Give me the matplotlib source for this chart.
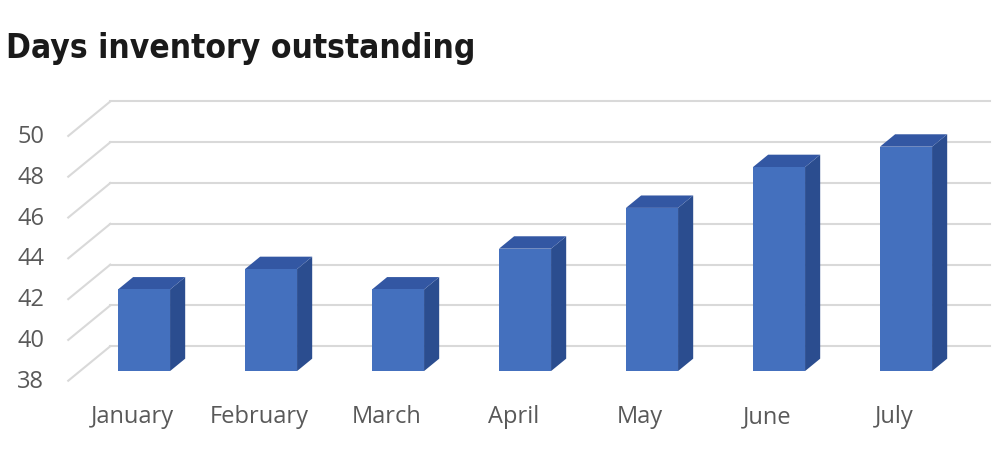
import matplotlib
matplotlib.use("Agg")
import matplotlib.pyplot as plt
from matplotlib.patches import Polygon

months = ["January", "February", "March", "April", "May", "June", "July"]
days = [42, 43, 42, 44, 46, 48, 49]
yticks = [38, 40, 42, 44, 46, 48, 50]
base = 38

# fake 3d: shift for one unit of depth (x in category units, y in value units)
DX, DY = 0.331, 1.69
FRONT, BACK = -0.28, 0.72      # depth of label plane / back wall, bar front = 0
BAR_DEPTH = 0.36
BAR_W = 0.41

front_c = "#4470be"
top_c = "#3357a3"
side_c = "#2b4d8f"
grid_c = "#d9d9d9"
text_c = "#595959"

fig = plt.figure(figsize=(10, 4.6), dpi=100)
ax = fig.add_axes([0, 0, 1, 1])
ax.set_xlim(-1.134, 6.740)
ax.set_ylim(33.69, 56.24)
ax.axis("off")

# gridlines: diagonal on the floor-left then horizontal on the back wall
xl, xr = -0.504, 6.425
for v in yticks:
    ax.plot([xl + FRONT * DX, xl + BACK * DX], [v + FRONT * DY, v + BACK * DY],
            color=grid_c, lw=1.5, zorder=1)
    ax.plot([xl + BACK * DX, xr + BACK * DX], [v + BACK * DY, v + BACK * DY],
            color=grid_c, lw=1.5, zorder=1)
    ax.text(xl + FRONT * DX - 0.19, v + FRONT * DY, str(v), ha="right", va="center",
            fontsize=17, color=text_c, family=["Open Sans", "DejaVu Sans"])

sx, sy = BAR_DEPTH * DX, BAR_DEPTH * DY
for i, (m, d) in enumerate(zip(months, days)):
    x0, x1 = i - BAR_W / 2, i + BAR_W / 2
    ax.add_patch(Polygon([(x1, base), (x1 + sx, base + sy), (x1 + sx, d + sy), (x1, d)],
                         closed=True, facecolor=side_c, edgecolor="none", zorder=3))
    ax.add_patch(Polygon([(x0, d), (x1, d), (x1 + sx, d + sy), (x0 + sx, d + sy)],
                         closed=True, facecolor=top_c, edgecolor="none", zorder=3))
    ax.bar(i, d - base, bottom=base, width=BAR_W, color=front_c, zorder=4)
    ax.text(i + FRONT * DX, base + FRONT * DY - 2.03, m, ha="center", va="baseline",
            fontsize=17, color=text_c, family=["Open Sans", "DejaVu Sans"])

fig.text(0.006, 0.874, "Days inventory outstanding", fontsize=24, fontweight="bold",
         fontstretch="condensed", color="#1a1a1a", ha="left", va="baseline",
         family=["DejaVu Sans"])

fig.savefig("out.png", dpi=100, facecolor="white")
